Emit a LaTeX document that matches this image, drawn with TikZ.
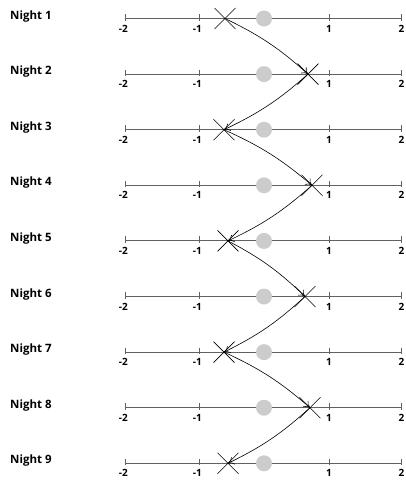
\documentclass[tikz,border=0pt]{standalone}
\usepackage{fontspec}
\setmainfont{Open Sans}
\usetikzlibrary{arrows.meta}

\begin{document}
\begin{tikzpicture}[x=1pt,y=-1pt,
  axisline/.style={draw=black!62, line width=0.9pt},
  tickmark/.style={draw=black!62, line width=0.9pt},
  ticklabel/.style={font=\fontsize{10}{10}\selectfont\bfseries, anchor=base, inner sep=0pt},
  nightlabel/.style={font=\fontsize{11.5}{11.5}\selectfont\bfseries, anchor=base west, inner sep=0pt},
  dot/.style={circle, fill=black!20, minimum size=16pt, inner sep=0pt},
  cross/.style={draw=black, line width=0.6pt},
  hop/.style={draw=black, line width=0.6pt, -{To[length=6pt,width=8pt]}, bend left=8}]
\useasboundingbox (0,0) rectangle (406,482);

% one number line per night, with the marked position of that night
\foreach \n/\cx in {1/225,2/308,3/224,4/312,5/228,6/305,7/224,8/310,9/228}{
  \pgfmathsetmacro\yy{18.5+55.6*(\n-1)}
  \node[nightlabel] (label\n) at (10,\yy+0.5) {Night \n};
  \draw[axisline] (125,\yy) -- (401.5,\yy);
  \foreach \tx in {125,199,329,401.5}{
    \draw[tickmark] (\tx,\yy-4.5) -- (\tx,\yy+2);
  }
  \node[ticklabel] (tm2-\n) at (125,\yy+13.5) {\llap{-}2};
  \node[ticklabel] (tm1-\n) at (199,\yy+13.5) {\llap{-}1};
  \node[ticklabel] (tp1-\n) at (329,\yy+13.5) {1};
  \node[ticklabel] (tp2-\n) at (401.5,\yy+13.5) {2};
  \node[dot] (dot\n) at (264,\yy) {};
  \coordinate (x\n) at (\cx,\yy);
  \draw[cross,shift={(x\n)}] (-10.5,-10.5) -- (10.5,10.5) (-10.5,10.5) -- (10.5,-10.5);
}

% moves from one night to the next
\foreach \a/\b in {1/2,2/3,3/4,4/5,5/6,6/7,7/8,8/9}{
  \draw[hop] (x\a) to (x\b);
}
\end{tikzpicture}
\end{document}
